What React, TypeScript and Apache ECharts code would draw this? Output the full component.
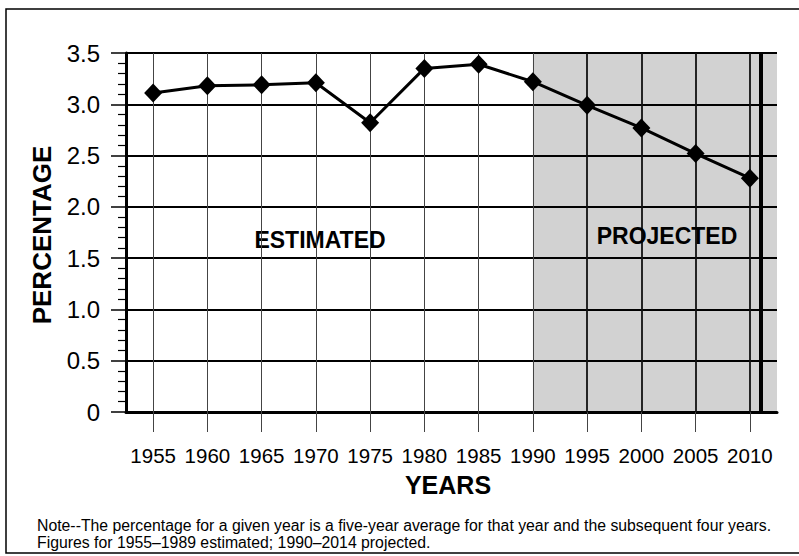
import React, { useEffect, useRef } from "react";
import * as echarts from "echarts";

const years = ["1955", "1960", "1965", "1970", "1975", "1980", "1985", "1990", "1995", "2000", "2005", "2010"];
const yearValues = [1955, 1960, 1965, 1970, 1975, 1980, 1985, 1990, 1995, 2000, 2005, 2010];
const percentage = [3.11, 3.18, 3.19, 3.21, 2.82, 3.35, 3.39, 3.22, 2.99, 2.77, 2.52, 2.28];
const projectionStart = 1990;
const projectionEnd = 2011;
const noteLines = [
  "Note--The percentage for a given year is a five-year average for that year and the subsequent four years.",
  "Figures for 1955\u20131989 estimated; 1990\u20132014 projected.",
];

const FONT = "'Liberation Sans', Arial, Helvetica, sans-serif";

export default function App() {
  const ref = useRef<HTMLDivElement>(null);
  useEffect(() => {
    if (!ref.current) return;
    const chart = echarts.init(ref.current, null, { renderer: "svg" });
    const xMin = 1952.5;
    const xMax = 2012.5;
    const option: any = {
      animation: false,
      backgroundColor: "#ffffff",
      textStyle: { fontFamily: FONT },
      grid: { left: 126, right: 22, top: 53, bottom: 144, containLabel: false },
      xAxis: [
        {
          type: "category",
          data: years,
          boundaryGap: true,
          z: 3,
          axisLine: { show: true, lineStyle: { color: "#000", width: 3 } },
          axisTick: { show: true, alignWithLabel: true, interval: 0, length: 20, lineStyle: { color: "#444", width: 1 } },
          axisLabel: { color: "#000", fontSize: 20.5, margin: 33, interval: 0, hideOverlap: false, fontFamily: FONT },
          splitLine: { show: false },
        },
        {
          type: "value",
          min: xMin,
          max: xMax,
          show: false,
          position: "bottom",
        },
      ],
      yAxis: {
        type: "value",
        min: 0,
        max: 3.5,
        interval: 0.5,
        z: 3,
        axisLine: { show: true, lineStyle: { color: "#000", width: 3 } },
        axisTick: { show: true, length: 15, lineStyle: { color: "#000", width: 1.5 } },
        minorTick: { show: true, splitNumber: 5, length: 8, lineStyle: { color: "#000", width: 1.2 } },
        axisLabel: {
          color: "#000",
          fontSize: 24,
          margin: 26,
          fontFamily: FONT,
          formatter: (v: number) => (v === 0 ? "0" : v.toFixed(1)),
        },
        splitLine: { show: true, lineStyle: { color: "#000", width: 2 } },
      },
      series: [
        {
          type: "line",
          xAxisIndex: 1,
          yAxisIndex: 0,
          z: 1,
          silent: true,
          data: [[projectionStart, 0]],
          showSymbol: false,
          lineStyle: { opacity: 0 },
          markArea: {
            silent: true,
            itemStyle: { color: "#d2d2d2" },
            data: [[{ xAxis: projectionStart }, { xAxis: xMax }]],
          },
          markLine: {
            silent: true,
            symbol: ["none", "none"],
            label: { show: false },
            data: [
              ...yearValues.map((y) => ({
                xAxis: y,
                lineStyle: { color: y > projectionStart ? "#111" : "#444", width: y > projectionStart ? 1.8 : 1, type: "solid" },
              })),
              { xAxis: projectionEnd, lineStyle: { color: "#000", width: 4, type: "solid" } },
            ],
          },
        },
        {
          type: "line",
          xAxisIndex: 0,
          yAxisIndex: 0,
          z: 5,
          data: percentage,
          symbol: "diamond",
          symbolSize: [18, 19],
          itemStyle: { color: "#000" },
          lineStyle: { color: "#000", width: 3 },
        },
      ],
      graphic: [
        {
          type: "rect",
          shape: { x: 6, y: 9, width: 820, height: 544 },
          style: { fill: "none", stroke: "#000", lineWidth: 1.5 },
          silent: true,
        },
        {
          type: "text",
          x: 320,
          y: 240,
          style: { text: "ESTIMATED", fontSize: 23, fontWeight: "bold", fill: "#000", align: "center", verticalAlign: "middle", fontFamily: FONT },
        },
        {
          type: "text",
          x: 667,
          y: 236,
          z: 10,
          style: { text: "PROJECTED", fontSize: 23, fontWeight: "bold", fill: "#000", align: "center", verticalAlign: "middle", fontFamily: FONT },
        },
        {
          type: "text",
          x: 448,
          y: 485,
          style: { text: "YEARS", fontSize: 25, fontWeight: "bold", fill: "#000", align: "center", verticalAlign: "middle", fontFamily: FONT },
        },
        {
          type: "text",
          x: 42,
          y: 235,
          rotation: Math.PI / 2,
          style: { text: "PERCENTAGE", fontSize: 26, fontWeight: "bold", fill: "#000", align: "center", verticalAlign: "middle", fontFamily: FONT },
        },
        ...noteLines.map((t, i) => ({
          type: "text",
          x: 37,
          y: 525 + i * 17,
          style: { text: t, fontSize: 15.8, fill: "#000", align: "left", verticalAlign: "middle", fontFamily: FONT },
        })),
      ],
    };
    chart.setOption(option);
    return () => chart.dispose();
  }, []);
  return <div ref={ref} style={{ position: "fixed", left: 0, top: 0, width: 799, height: 556 }} />;
}
